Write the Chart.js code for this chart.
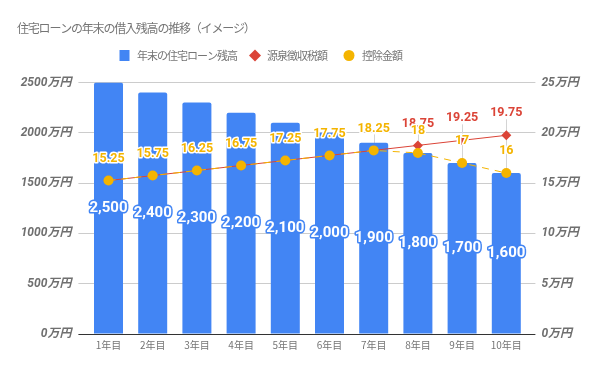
<!DOCTYPE html>
<html>
<head>
<meta charset="utf-8">
<script src="https://cdn.jsdelivr.net/npm/chart.js@4.4.1/dist/chart.umd.min.js"></script>
<style>
  body { margin: 0; background: #fff; }
  #wrap { width: 600px; height: 371px; }
</style>
</head>
<body>
<div id="wrap"><canvas id="chart" width="600" height="371"></canvas></div>
<script>
const titleText = "住宅ローンの年末の借入残高の推移（イメージ）";
const years = ["1年目", "2年目", "3年目", "4年目", "5年目", "6年目", "7年目", "8年目", "9年目", "10年目"];
const loanBalance = [2500, 2400, 2300, 2200, 2100, 2000, 1900, 1800, 1700, 1600];
const withholdingTax = [15.25, 15.75, 16.25, 16.75, 17.25, 17.75, 18.25, 18.75, 19.25, 19.75];
const deduction = [15.25, 15.75, 16.25, 16.75, 17.25, 17.75, 18.25, 18, 17, 16];

const BLUE = "#4285F4";
const RED = "#DB4437";
const YELLOW = "#F4B400";
const GREY = "#757575";
const JP = "'Noto Sans CJK JP', 'Noto Sans', sans-serif";

// title + legend drawn by hand so they sit where the original has them
const headerPlugin = {
  id: "header",
  afterDraw(chart) {
    const ctx = chart.ctx;
    ctx.save();
    ctx.fillStyle = GREY;
    ctx.textBaseline = "middle";
    ctx.textAlign = "left";
    ctx.font = "12px " + JP;
    ctx.letterSpacing = "-1.2px";
    ctx.fillText(titleText, 17, 28);

    ctx.font = "11px " + JP;
    ctx.letterSpacing = "-1px";
    const ds = chart.data.datasets;
    const items = [
      { x: 124.5, tx: 137, style: "rect", color: BLUE, text: ds[0].label },
      { x: 255, tx: 267, style: "diamond", color: RED, text: ds[1].label },
      { x: 349, tx: 362, style: "circle", color: YELLOW, text: ds[2].label }
    ];
    const y = 55.5;
    items.forEach(it => {
      ctx.fillStyle = it.color;
      ctx.beginPath();
      if (it.style === "rect") {
        ctx.rect(it.x - 5, y - 5.5, 10, 11);
      } else if (it.style === "diamond") {
        ctx.moveTo(it.x, y - 6);
        ctx.lineTo(it.x + 6, y);
        ctx.lineTo(it.x, y + 6);
        ctx.lineTo(it.x - 6, y);
        ctx.closePath();
      } else {
        ctx.arc(it.x, y, 5.5, 0, Math.PI * 2);
      }
      ctx.fill();
      ctx.fillStyle = GREY;
      ctx.fillText(it.text, it.tx, y);
    });
    ctx.restore();
  }
};

// thin stems from the annotations to the points (under the bars)
const stemPlugin = {
  id: "stems",
  beforeDatasetsDraw(chart) {
    const ctx = chart.ctx;
    const y1 = chart.scales.y1;
    const x = chart.scales.x;
    ctx.save();
    ctx.strokeStyle = "#d4d4d4";
    ctx.lineWidth = 1;
    years.forEach((_, i) => {
      const px = Math.round(x.getPixelForValue(i)) + 0.5;
      const top = y1.getPixelForValue(Math.max(withholdingTax[i], deduction[i])) - 16;
      const bottom = y1.getPixelForValue(Math.min(withholdingTax[i], deduction[i]));
      ctx.beginPath();
      ctx.moveTo(px, top);
      ctx.lineTo(px, bottom);
      ctx.stroke();
    });
    ctx.restore();
  }
};

function outlinedText(ctx, text, x, y, fill, stroke) {
  ctx.strokeStyle = stroke;
  ctx.lineWidth = 3;
  ctx.lineJoin = "round";
  ctx.strokeText(text, x, y);
  ctx.fillStyle = fill;
  ctx.fillText(text, x, y);
}

const labelPlugin = {
  id: "valueLabels",
  afterDatasetsDraw(chart) {
    const ctx = chart.ctx;
    ctx.save();
    ctx.textAlign = "center";
    ctx.textBaseline = "middle";

    // bar values in the middle of each bar
    ctx.font = "bold 15px Roboto";
    chart.getDatasetMeta(0).data.forEach((bar, i) => {
      const yMid = (bar.y + bar.base) / 2;
      outlinedText(ctx, loanBalance[i].toLocaleString("en-US"), bar.x, yMid, "#fff", BLUE);
    });

    ctx.font = "bold 12.5px Roboto";
    const red = chart.getDatasetMeta(1).data;
    const yel = chart.getDatasetMeta(2).data;
    years.forEach((_, i) => {
      if (withholdingTax[i] !== deduction[i]) {
        outlinedText(ctx, String(withholdingTax[i]), red[i].x, red[i].y - 22, RED, "#fff");
      }
      outlinedText(ctx, String(deduction[i]), yel[i].x, yel[i].y - 22, YELLOW, "#fff");
    });
    ctx.restore();
  }
};

const gridColor = ctx => (ctx.tick && ctx.tick.value === 0 ? "#333333" : "#cccccc");

new Chart(document.getElementById("chart"), {
  type: "bar",
  data: {
    labels: years,
    datasets: [
      {
        type: "bar",
        label: "年末の住宅ローン残高",
        data: loanBalance,
        backgroundColor: BLUE,
        yAxisID: "y",
        categoryPercentage: 1,
        barPercentage: 0.656,
        borderRadius: { topLeft: 2, topRight: 2 },
        borderSkipped: "bottom",
        order: 2
      },
      {
        type: "line",
        label: "源泉徴収税額",
        data: withholdingTax,
        borderColor: RED,
        backgroundColor: RED,
        borderWidth: 1,
        pointStyle: "rectRot",
        pointRadius: 5,
        pointBorderWidth: 0,
        yAxisID: "y1",
        order: 1
      },
      {
        type: "line",
        label: "控除金額",
        data: deduction,
        borderColor: YELLOW,
        backgroundColor: YELLOW,
        borderWidth: 1,
        borderDash: [7, 6],
        pointStyle: "circle",
        pointRadius: 5,
        pointBorderWidth: 0,
        yAxisID: "y1",
        order: 0
      }
    ]
  },
  options: {
    responsive: false,
    animation: false,
    layout: { padding: { top: 82.5, left: 0, right: 0, bottom: 0 } },
    plugins: {
      legend: { display: false },
      title: { display: false },
      tooltip: { enabled: false }
    },
    scales: {
      x: {
        offset: true,
        grid: { display: false, drawTicks: false },
        border: { display: false },
        ticks: { color: GREY, font: { family: JP, size: 10 }, padding: 5 },
        afterFit(scale) { scale.height = 37; }
      },
      y: {
        position: "left",
        min: 0,
        max: 2500,
        ticks: {
          stepSize: 500,
          padding: 7,
          color: "#6f6f6f",
          font: { family: "Roboto, " + JP, size: 12, weight: "bold", style: "italic" },
          callback: v => v + "万円"
        },
        grid: { color: gridColor, tickLength: 8, tickColor: gridColor },
        border: { display: false },
        afterFit(scale) { scale.width = 86.4; }
      },
      y1: {
        position: "right",
        min: 0,
        max: 25,
        ticks: {
          stepSize: 5,
          padding: 6,
          color: "#6f6f6f",
          font: { family: "Roboto, " + JP, size: 12, weight: "bold", style: "italic" },
          callback: v => v + "万円"
        },
        grid: { color: gridColor, tickLength: 7, tickColor: gridColor },
        border: { display: false },
        afterFit(scale) { scale.width = 71.6; }
      }
    }
  },
  plugins: [stemPlugin, labelPlugin, headerPlugin]
});
</script>
</body>
</html>
